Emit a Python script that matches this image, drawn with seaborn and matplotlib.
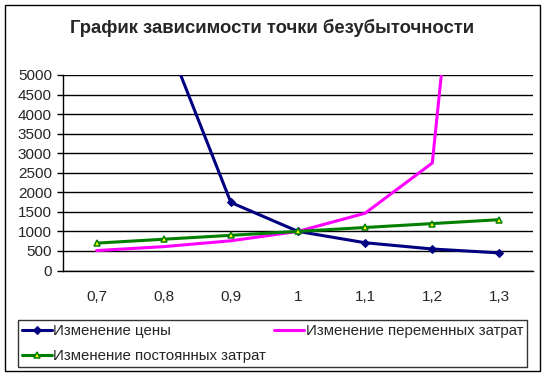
import numpy as np
import pandas as pd
import matplotlib
matplotlib.use("Agg")
import matplotlib.pyplot as plt
from matplotlib.patches import Rectangle
import seaborn as sns

# Категории (коэффициент изменения)
koef = ["0,7", "0,8", "0,9", "1", "1,1", "1,2", "1,3"]

# Точка безубыточности при изменении факторов
izm_ceny = [np.nan, 6100, 1740, 1000, 710, 550, 450]
izm_perem = [510, 610, 760, 1000, 1465, 2750, 19500]
izm_post = [700, 800, 900, 1000, 1100, 1200, 1300]

sns.set_style("white")
plt.rcParams["font.family"] = ["Liberation Sans", "DejaVu Sans"]

df = pd.DataFrame({
    "x": np.arange(len(koef)),
    "cena": izm_ceny,
    "perem": izm_perem,
    "post": izm_post,
})

fig = plt.figure(figsize=(5.48, 3.77), dpi=100)
ax = fig.add_axes([63 / 548, 1 - 270.5 / 377, 470 / 548, 195.5 / 377])

sns.lineplot(data=df, x="x", y="cena", ax=ax, color="#000080", lw=2.2,
             marker="D", markersize=4.2, markeredgecolor="#000080",
             label="Изменение цены")
sns.lineplot(data=df, x="x", y="perem", ax=ax, color="#FF00FF", lw=2.2,
             label="Изменение переменных затрат")
sns.lineplot(data=df, x="x", y="post", ax=ax, color="#008000", lw=2.2,
             marker="^", markersize=5, markerfacecolor="#FFFF00",
             markeredgecolor="#008000", markeredgewidth=1.1,
             label="Изменение постоянных затрат")

ax.set_ylim(0, 5000)
ax.set_xlim(-0.5, len(koef) - 0.5)
ax.set_yticks(np.arange(0, 5001, 500))
ax.set_xticks(np.arange(-0.5, len(koef), 1))
ax.set_xticklabels([])
ax.set_xticks(np.arange(len(koef)), minor=True)
ax.set_xticklabels(koef, minor=True)
ax.tick_params(axis="x", which="major", length=4, width=1, color="black", direction="out")
ax.tick_params(axis="x", which="minor", length=0, pad=14, labelsize=11)
ax.tick_params(axis="y", length=4, width=1, color="black", direction="out",
               pad=4, labelsize=11, left=True)
ax.set_xlabel("")
ax.set_ylabel("")
ax.grid(axis="y", color="black", lw=1)
ax.set_axisbelow(True)
for s in ["top", "right"]:
    ax.spines[s].set_visible(False)
for s in ["left", "bottom"]:
    ax.spines[s].set_color("black")
    ax.spines[s].set_linewidth(1)

handles, labels = ax.get_legend_handles_labels()
ax.get_legend().remove()
order = [0, 2, 1]
leg = fig.legend([handles[i] for i in order], [labels[i] for i in order],
                 ncol=2, loc="lower left", mode="expand",
                 bbox_to_anchor=(18 / 548, 1 - 367 / 377, 509 / 548, 50 / 377),
                 fontsize=10.8, frameon=True, fancybox=False, edgecolor="black",
                 handlelength=2.0, handletextpad=0.1, borderpad=0.25,
                 labelspacing=0.75, borderaxespad=0, columnspacing=0.5)
leg.get_frame().set_linewidth(1)

fig.text(0.497, 1 - 28 / 377, "График зависимости точки безубыточности",
         ha="center", va="center", fontsize=13.3, fontweight="bold")

fig.patches.append(Rectangle((5 / 548, 1 - 371 / 377), 535 / 548, 366 / 377,
                             transform=fig.transFigure, fill=False,
                             edgecolor="black", lw=1))

fig.savefig("out.png", dpi=100)
